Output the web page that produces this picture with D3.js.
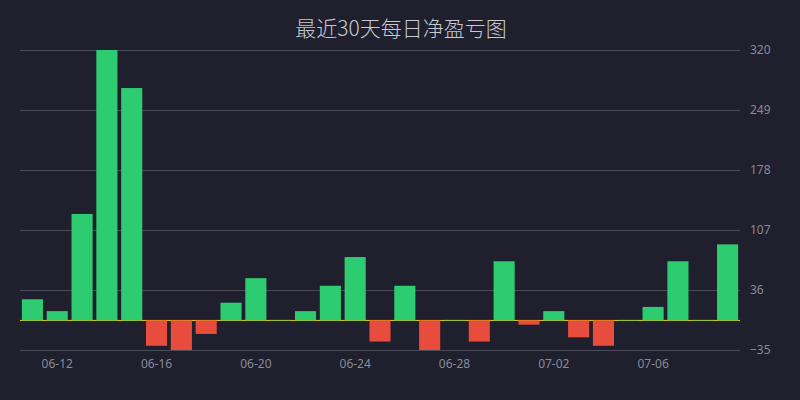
<!DOCTYPE html>
<html>
<head>
<meta charset="utf-8">
<script src="https://cdn.jsdelivr.net/npm/d3@7"></script>
<style>
  html, body { margin: 0; padding: 0; background: #1f1f2e; }
  svg { display: block; }
</style>
</head>
<body>
<svg id="chart" width="800" height="400"></svg>
<script>
// daily net profit / loss, 06-11 .. 07-09
const days = [
  '06-11', '06-12', '06-13', '06-14', '06-15', '06-16', '06-17', '06-18', '06-19', '06-20',
  '06-21', '06-22', '06-23', '06-24', '06-25', '06-26', '06-27', '06-28', '06-29', '06-30',
  '07-01', '07-02', '07-03', '07-04', '07-05', '07-06', '07-07', '07-08', '07-09'
];
const pnl = [
  25, 11, 126, 320, 275, -30, -35, -16, 21, 50,
  0.6, 11, 41, 75, -25, 41, -35, 0.6, -25, 70,
  -5, 11, -20, -30, 0.6, 16, 70, 0.6, 90
];
const xTickLabels = ['06-12', '06-16', '06-20', '06-24', '06-28', '07-02', '07-06'];
const yTicks = [320, 249, 178, 107, 36, -35];

const margin = { top: 50, right: 60, bottom: 50, left: 20 };
const width = 800 - margin.left - margin.right;
const height = 400 - margin.top - margin.bottom;

const svg = d3.select('#chart');

// title
svg.append('text')
  .attr('x', 401)
  .attr('y', 36)
  .attr('text-anchor', 'middle')
  .attr('fill', '#c8c8d0')
  .attr('font-family', 'Noto Sans CJK SC, sans-serif')
  .attr('font-weight', 300)
  .attr('font-size', 21)
  .text('最近30天每日净盈亏图');

const g = svg.append('g')
  .attr('transform', `translate(${margin.left}, ${margin.top})`);

const x = d3.scaleBand()
  .domain(days)
  .range([0, width])
  .paddingInner(0.15)
  .paddingOuter(0.075);

const y = d3.scaleLinear()
  .domain([-35, 320])
  .range([height, 0]);

// grid lines
g.append('g')
  .selectAll('line')
  .data(yTicks)
  .enter()
  .append('line')
  .attr('x1', 0)
  .attr('x2', width)
  .attr('y1', (d) => Math.round(y(d)) + 0.5)
  .attr('y2', (d) => Math.round(y(d)) + 0.5)
  .attr('stroke', '#4a4a58')
  .attr('stroke-width', 1);

// y axis labels on the right
const yAxis = g.append('g')
  .attr('transform', `translate(${width}, 0)`)
  .call(d3.axisRight(y).tickValues(yTicks).tickSize(0).tickPadding(10));
yAxis.select('.domain').remove();
yAxis.selectAll('text')
  .attr('fill', '#8a8a98')
  .attr('font-family', 'Noto Sans, sans-serif')
  .attr('font-size', 12);

// x axis labels
const xAxis = g.append('g')
  .attr('transform', `translate(0, ${height})`)
  .call(d3.axisBottom(x).tickValues(xTickLabels).tickSize(0).tickPadding(9));
xAxis.select('.domain').remove();
xAxis.selectAll('text')
  .attr('fill', '#8a8a98')
  .attr('font-family', 'Noto Sans, sans-serif')
  .attr('font-size', 12);

// zero line
g.append('line')
  .attr('x1', 0)
  .attr('x2', width)
  .attr('y1', y(0))
  .attr('y2', y(0))
  .attr('stroke', '#f1c40f')
  .attr('stroke-width', 1);

// bars
g.selectAll('.bar')
  .data(pnl)
  .enter()
  .append('rect')
  .attr('class', 'bar')
  .attr('x', (d, i) => x(days[i]))
  .attr('width', x.bandwidth())
  .attr('y', (d) => y(Math.max(0, d)))
  .attr('height', (d) => Math.abs(y(d) - y(0)))
  .attr('fill', (d) => d >= 0 ? '#2ecc71' : '#e74c3c');
</script>
</body>
</html>
